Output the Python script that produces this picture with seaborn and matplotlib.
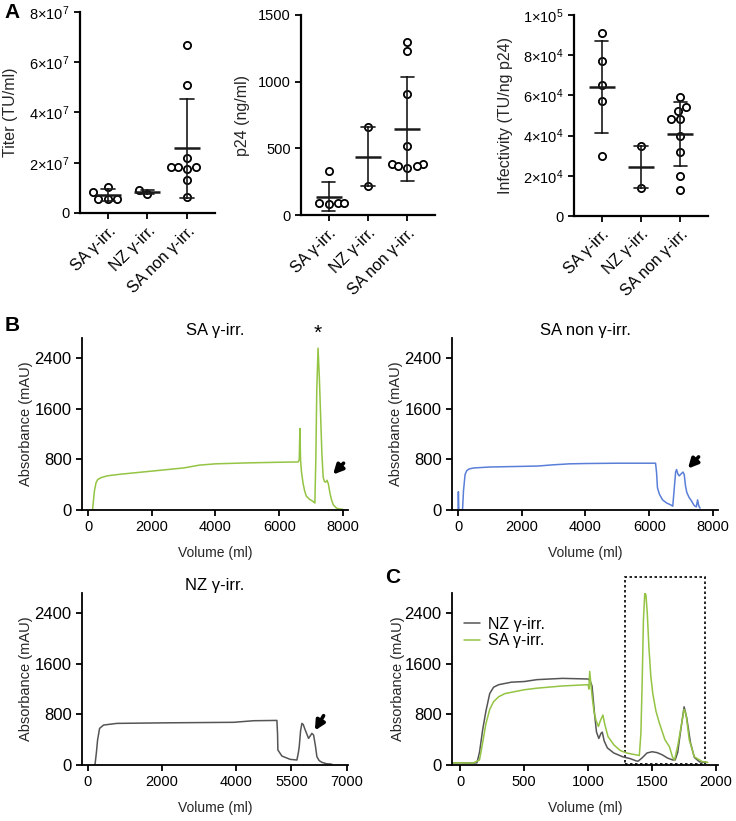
import matplotlib
matplotlib.use('Agg')

import matplotlib.pyplot as plt
from matplotlib.patches import Rectangle
from matplotlib.ticker import FuncFormatter
import numpy as np
import pandas as pd
import seaborn as sns

# ---- panel A: dot plots (mean +/- SD) ----
groups = ['SA γ-irr.', 'NZ γ-irr.', 'SA non γ-irr.']

titer_sa = [1.05e7, 0.85e7, 0.55e7, 0.55e7, 0.56e7]
titer_nz = [0.77e7, 0.92e7]
titer_sanon = [6.7e7, 5.1e7, 2.2e7, 1.85e7, 1.85e7, 1.75e7, 1.85e7, 1.3e7, 0.65e7]

p24_sa = [330, 80, 90, 92, 88]
p24_nz = [660, 217]
p24_sanon = [1300, 1230, 905, 520, 380, 350, 380, 368, 368]

inf_sa = [90.9e3, 77.3e3, 65.2e3, 57.2e3, 30.0e3]
inf_nz = [35.0e3, 14.1e3]
inf_sanon = [59.0e3, 52.4e3, 54.1e3, 48.1e3, 48.1e3, 40.0e3, 32.0e3, 20.1e3, 12.9e3]

# ---- panel B: chromatograms ----
sa_vol = [140, 160, 200, 250, 300, 400, 600, 1000, 1500, 2000, 2500, 3000, 3500,
          4000, 5000, 6000, 6600, 6630, 6650, 6670, 6700, 6750, 6800, 6850, 6950,
          7050, 7120, 7150, 7180, 7220, 7260, 7300, 7340, 7380, 7420, 7460, 7500,
          7540, 7600, 7650, 7700, 7800, 7900, 8000]
sa_abs = [0, 100, 300, 430, 480, 510, 540, 565, 590, 615, 640, 665, 710,
          730, 745, 755, 760, 800, 1290, 800, 600, 420, 300, 220, 170,
          140, 110, 800, 1900, 2560, 2100, 1500, 900, 520, 450, 440, 470,
          420, 250, 150, 80, 30, 15, 10]

sanon_vol = [0, 10, 25, 140, 170, 220, 270, 350, 500, 1000, 2000, 2500, 3000, 3500,
             4000, 5000, 6000, 6200, 6230, 6260, 6320, 6420, 6550, 6680, 6740, 6780,
             6830, 6860, 6900, 6940, 7000, 7060, 7100, 7140, 7180, 7250, 7320, 7400,
             7440, 7480, 7520, 7550, 7580, 7600]
sanon_abs = [0, 290, 0, 0, 300, 560, 620, 650, 665, 680, 690, 695, 715, 730,
             735, 740, 740, 740, 600, 350, 250, 160, 110, 80, 60, 300,
             600, 640, 570, 540, 570, 600, 560, 380, 280, 200, 150, 80,
             60, 50, 160, 80, 40, 30]

nz_vol = [190, 230, 261, 315, 423, 784, 2135, 3937, 4477, 5108, 5125, 5135, 5243,
          5468, 5649, 5690, 5712, 5750, 5784, 5820, 5874, 5964, 6020, 6054, 6100,
          6150, 6189, 6250, 6324, 6450, 6550, 6600]
nz_abs = [0, 200, 395, 579, 632, 658, 667, 675, 700, 705, 500, 237, 142,
          89, 79, 200, 290, 550, 658, 640, 553, 421, 470, 500, 474,
          300, 132, 70, 42, 20, 16, 10]

# ---- panel C: overlay ----
c_nz_vol = [-65, 0, 100, 130, 150, 175, 200, 230, 260, 300, 400, 500, 600, 800, 1000,
            1015, 1030, 1050, 1065, 1083, 1100, 1110, 1125, 1150, 1200, 1270, 1330,
            1375, 1390, 1420, 1460, 1500, 1540, 1580, 1620, 1660, 1680, 1700, 1720,
            1750, 1770, 1800, 1830, 1870, 1930]
c_nz_abs = [35, 35, 30, 35, 200, 560, 850, 1130, 1230, 1270, 1310, 1320, 1350, 1370, 1360,
            1330, 1250, 800, 520, 420, 500, 520, 380, 270, 190, 130, 100,
            65, 60, 110, 190, 210, 195, 160, 110, 80, 80, 200, 500,
            920, 750, 350, 120, 50, 40]
c_sa_vol = [-65, 0, 100, 150, 170, 200, 230, 260, 300, 350, 400, 500, 600, 800, 1000,
            1005, 1012, 1020, 1030, 1045, 1062, 1080, 1095, 1115, 1130, 1155, 1200,
            1250, 1300, 1375, 1400, 1412, 1422, 1432, 1443, 1452, 1462, 1475, 1490,
            1505, 1530, 1557, 1600, 1635, 1660, 1675, 1700, 1730, 1750, 1765, 1790,
            1830, 1890, 1935]
c_sa_abs = [35, 35, 30, 80, 300, 650, 880, 1000, 1080, 1130, 1150, 1190, 1215, 1250, 1270,
            1200, 1480, 1300, 1100, 850, 700, 610, 700, 790, 640, 450, 320,
            230, 190, 160, 150, 500, 1300, 2300, 2740, 2680, 2400, 1850, 1400,
            1130, 850, 660, 400, 290, 120, 80, 300, 650, 880, 800, 400,
            130, 55, 40]

GREEN = '#94c443'
BLUE = '#5a7fd8'
GRAY = '#555555'

sns.set_theme(style='ticks')
plt.rcParams['font.family'] = ['Liberation Sans', 'DejaVu Sans']
plt.rcParams['mathtext.fontset'] = 'custom'
plt.rcParams['mathtext.rm'] = 'Liberation Sans'
plt.rcParams['mathtext.default'] = 'regular'
plt.rcParams['axes.linewidth'] = 1.3
plt.rcParams['xtick.major.width'] = 1.3
plt.rcParams['ytick.major.width'] = 1.3
plt.rcParams['xtick.major.size'] = 4
plt.rcParams['ytick.major.size'] = 4
plt.rcParams['xtick.labelsize'] = 10.5
plt.rcParams['ytick.labelsize'] = 10.5
plt.rcParams['axes.labelsize'] = 10.5
plt.rcParams['text.color'] = 'black'
plt.rcParams['xtick.color'] = 'black'
plt.rcParams['ytick.color'] = 'black'
plt.rcParams['axes.edgecolor'] = 'black'

W, H = 736, 821
fig = plt.figure(figsize=(W / 100, H / 100), dpi=100)


def px_axes(l, t, r, b):
    return fig.add_axes([l / W, 1 - b / H, (r - l) / W, (b - t) / H])


def sci_fmt(v, pos):
    if v == 0:
        return '0'
    e = int(np.floor(np.log10(v)))
    m = v / 10 ** e
    return f'{m:g}×$10^{{{e}}}$'


def mean_sd(v):
    # n=2 groups in the original are shown as +/- half range
    sd = np.std(v, ddof=1 if len(v) > 2 else 0)
    return np.mean(v) - sd, np.mean(v) + sd


def dot_panel(ax, values, ylabel, yticks, sci, label_x):
    df = pd.DataFrame({
        'group': sum([[g] * len(v) for g, v in zip(groups, values)], []),
        'val': sum([list(v) for v in values], []),
    })
    sns.swarmplot(data=df, x='group', y='val', order=groups, ax=ax, size=5.2,
                  color='white', edgecolor='black', linewidth=1.3, zorder=2)
    sns.pointplot(data=df, x='group', y='val', order=groups, ax=ax,
                  errorbar=mean_sd, capsize=0.35, color='#1a1a1a',
                  marker='_', markersize=19, markeredgewidth=1.8,
                  linestyle='none', err_kws={'linewidth': 1.2, 'zorder': 3},
                  zorder=4)
    ax.set_xlim(-0.7, 2.7)
    ax.set_ylim(0, yticks[-1])
    ax.set_yticks(yticks)
    if sci:
        ax.yaxis.set_major_formatter(FuncFormatter(sci_fmt))
    ax.set_xlabel('')
    ax.set_ylabel(ylabel, fontsize=11.5)
    ax.yaxis.set_label_coords(label_x, 0.5)
    ax.set_xticks(range(3))
    ax.set_xticklabels(groups, rotation=45, ha='right', rotation_mode='anchor',
                       fontsize=11.5)
    sns.despine(ax=ax)
    for s in ax.spines.values():
        s.set_linewidth(1.6)


a1 = px_axes(80, 12, 215, 213)
dot_panel(a1, [titer_sa, titer_nz, titer_sanon], 'Titer (TU/ml)',
          [0, 2e7, 4e7, 6e7, 8e7], True, -0.46)
a2 = px_axes(301, 15, 435, 215)
dot_panel(a2, [p24_sa, p24_nz, p24_sanon], 'p24 (ng/ml)',
          [0, 500, 1000, 1500], False, -0.38)
a3 = px_axes(574, 15, 708, 216)
dot_panel(a3, [inf_sa, inf_nz, inf_sanon], 'Infectivity (TU/ng p24)',
          [0, 2e4, 4e4, 6e4, 8e4, 1e5], True, -0.455)


def chrom_axes(ax, xlim, xticks, label_x=-0.184):
    ax.set_xlim(*xlim)
    ax.set_ylim(0, 2720)
    ax.set_xticks(xticks)
    ax.set_yticks([0, 800, 1600, 2400])
    ax.tick_params(axis='y', labelsize=12)
    ax.set_xlabel('Volume (ml)', fontsize=10)
    ax.set_ylabel('Absorbance (mAU)', fontsize=10.5)
    ax.xaxis.set_label_coords(0.5, -0.21)
    ax.yaxis.set_label_coords(label_x, 0.5)
    sns.despine(ax=ax)


def arrow(ax, tip, tail):
    ax.annotate('', xy=tip, xytext=tail,
                arrowprops=dict(arrowstyle='-|>', color='black', lw=2.6,
                                mutation_scale=14, shrinkA=0, shrinkB=0))


b1 = px_axes(82, 338, 348, 510)
sns.lineplot(x=sa_vol, y=sa_abs, ax=b1, color=GREEN, lw=1.1, estimator=None)
chrom_axes(b1, (-190, 8160), [0, 2000, 4000, 6000, 8000])
b1.set_title('SA γ-irr.', fontsize=12, pad=-3)
b1.text(sa_vol[int(np.argmax(sa_abs))], 0.97, '*', transform=b1.get_xaxis_transform(),
        ha='center', va='bottom', fontsize=15)
arrow(b1, (7690, 560), (8020, 740))

b2 = px_axes(452, 338, 718, 510)
sns.lineplot(x=sanon_vol, y=sanon_abs, ax=b2, color=BLUE, lw=1.1, estimator=None)
chrom_axes(b2, (-190, 8160), [0, 2000, 4000, 6000, 8000])
b2.set_title('SA non γ-irr.', fontsize=12, pad=-3)
arrow(b2, (7216, 655), (7550, 840))

b3 = px_axes(82, 593, 348, 765)
sns.lineplot(x=nz_vol, y=nz_abs, ax=b3, color=GRAY, lw=1.1, estimator=None)
chrom_axes(b3, (-160, 7030), [0, 2000, 4000, 5500, 7000])
b3.set_title('NZ γ-irr.', fontsize=12, pad=-3)
arrow(b3, (6135, 545), (6370, 780))

c = px_axes(452, 593, 718, 765)
sns.lineplot(x=c_nz_vol, y=c_nz_abs, ax=c, color=GRAY, lw=1.1, estimator=None,
             label='NZ γ-irr.')
sns.lineplot(x=c_sa_vol, y=c_sa_abs, ax=c, color=GREEN, lw=1.1, estimator=None,
             label='SA γ-irr.')
chrom_axes(c, (-65, 2015), [0, 500, 1000, 1500, 2000], label_x=-0.177)
c.legend(loc='upper left', bbox_to_anchor=(0.02, 0.9), frameon=False, fontsize=11.5,
         handlelength=1.0, handletextpad=0.5, labelspacing=0.1, borderaxespad=0)
c.add_patch(Rectangle((1290, 10), 620, 2960, fill=False, lw=1.2, ls=(0, (1.5, 1.5)),
                      edgecolor='black', clip_on=False))

for letter, x, y in [('A', 12, 12), ('B', 12, 325), ('C', 393, 577)]:
    fig.text(x / W, 1 - y / H, letter, fontsize=15, fontweight='bold',
             ha='center', va='center')

fig.savefig('out.png', dpi=100)
